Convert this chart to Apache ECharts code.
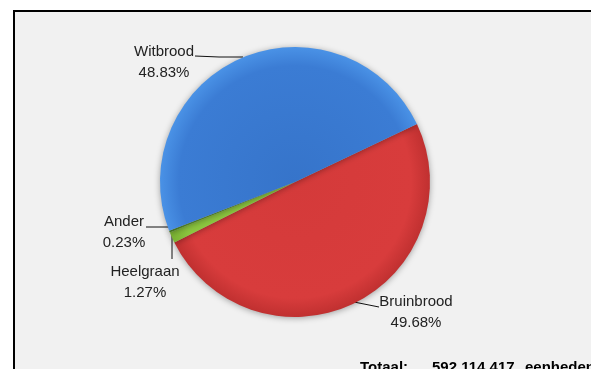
<!DOCTYPE html>
<html>
<head>
<meta charset="utf-8">
<script src="https://cdn.jsdelivr.net/npm/echarts@6/dist/echarts.min.js"></script>
<style>
  html, body { margin: 0; padding: 0; background: #fff; }
  #chart { width: 591px; height: 369px; }
</style>
</head>
<body>
<div id="chart"></div>
<script>
// slices, clockwise from the upper-right boundary
var names = ['Bruinbrood', 'Heelgraan', 'Ander', 'Witbrood'];
var shares = [49.68, 1.27, 0.23, 48.83];
var totalLabel = 'Totaal:';
var totalValue = '592 114 417';
var totalUnit = 'eenheden';

var CX = 295, CY = 182, R = 135;

function grad(c0, c1, c2) {
    return {
        type: 'radial', x: CX, y: CY, r: R, global: true,
        colorStops: [{offset: 0, color: c0}, {offset: 0.86, color: c1}, {offset: 1, color: c2}]
    };
}
var colors = [
    grad('#d43a3a', '#d83c3c', '#c03030'),
    grad('#8cc63f', '#8cc63f', '#7ab232'),
    grad('#5f9a2c', '#5f9a2c', '#4f8524'),
    grad('#3674ca', '#3b7cd4', '#4a92e6')
];

// label anchor (x, y) and leader line points, per slice
var labelPos = [
    {x: 416, y: 312, line: [[349, 301], [364, 304], [379, 307]]},
    {x: 145, y: 282, line: [[172, 233], [172, 246], [172, 259]]},
    {x: 124, y: 232, line: [[170, 227], [158, 227], [146, 227]]},
    {x: 164, y: 62,  line: [[243, 57], [219, 57], [195, 56]]}
];

var myChart = echarts.init(document.getElementById('chart'));

var pieData = [];
for (var i = 0; i < names.length; i++) {
    pieData.push({name: names[i], value: shares[i], itemStyle: {color: colors[i]}});
}

var totalFont = 'bold 15px "Liberation Sans", Arial';

var option = {
    backgroundColor: '#ffffff',
    animation: false,
    graphic: [
        {
            type: 'rect', z: -10, silent: true,
            shape: {x: 14, y: 11, width: 600, height: 400},
            style: {fill: '#f1f1f1', stroke: '#000', lineWidth: 2}
        },
        {type: 'text', left: 360, top: 360, style: {text: totalLabel, font: totalFont, fill: '#000'}},
        {type: 'text', left: 432, top: 360, style: {text: totalValue, font: totalFont, fill: '#000'}},
        {type: 'text', left: 525, top: 360, style: {text: totalUnit, font: totalFont, fill: '#000'}}
    ],
    series: [{
        type: 'pie',
        center: [CX, CY],
        radius: [0, R],
        startAngle: 25.4,
        clockwise: true,
        data: pieData,
        itemStyle: {
            shadowBlur: 6,
            shadowOffsetY: 1,
            shadowColor: 'rgba(0,0,0,0.35)'
        },
        label: {
            show: true,
            position: 'outside',
            formatter: '{b}\n{c}%',
            fontFamily: '"Liberation Sans", Arial',
            fontSize: 15,
            lineHeight: 21,
            color: '#222',
            align: 'center'
        },
        labelLine: {
            show: true,
            lineStyle: {color: '#111', width: 1}
        },
        labelLayout: function (params) {
            var p = labelPos[params.dataIndex];
            return {
                x: p.x,
                y: p.y,
                align: 'center',
                verticalAlign: 'middle',
                labelLinePoints: p.line
            };
        }
    }]
};

myChart.setOption(option);
</script>
</body>
</html>
